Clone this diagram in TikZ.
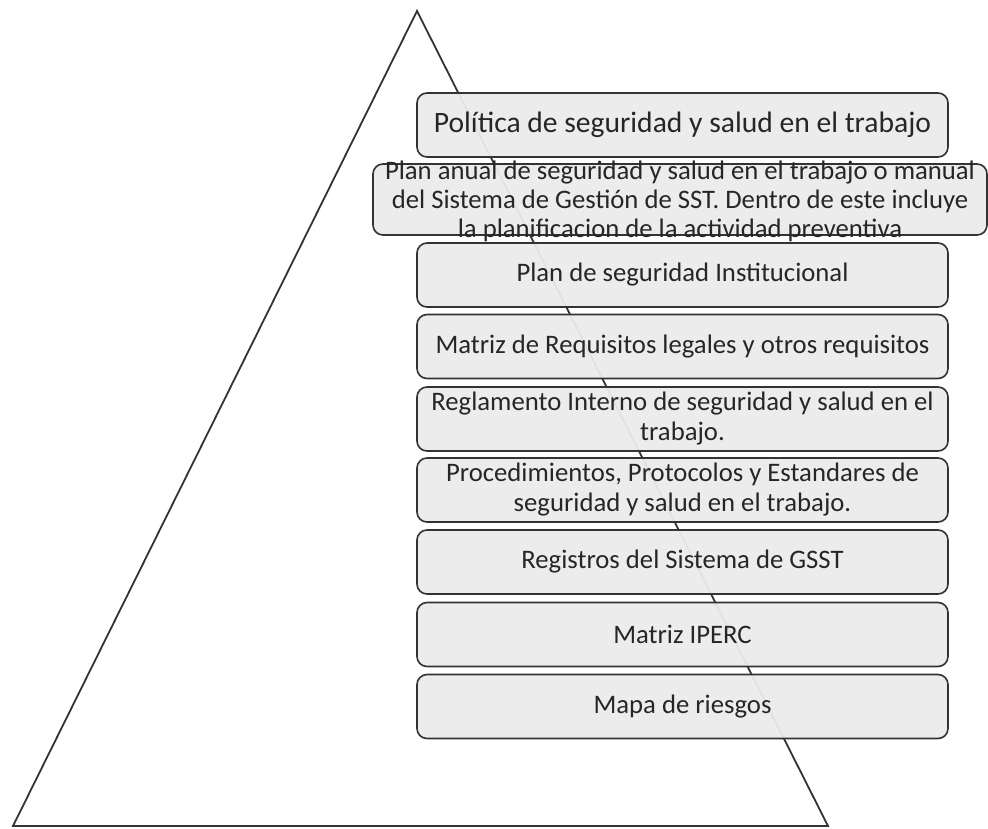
\documentclass[tikz,border=0pt]{standalone}
\usepackage{fontspec}
\setmainfont{Carlito}
\tikzset{
  borde/.style={draw=black!80,line width=1.8pt},
  capa/.style={draw=black!80,line width=1.6pt,rounded corners=10pt,
    fill=black!8,fill opacity=0.95,text opacity=1,text=black!85,
    minimum width=531pt,minimum height=64pt,inner sep=0pt,
    align=center,font=\fontsize{26.7}{30}\selectfont},
  texto/.style={align=center,inner sep=0pt,text=black!85,
    font=\fontsize{26.7}{29}\selectfont}
}
\begin{document}
\begin{tikzpicture}[x=1pt,y=-1pt]
  \useasboundingbox (0,0) rectangle (988,828);
  % piramide
  \coordinate (cima) at (417,11);
  \coordinate (izq) at (13,826);
  \coordinate (der) at (828,826);
  \draw[borde] (cima) -- (izq) -- (der) -- cycle;
  % capas
  \node[capa,font=\fontsize{29.6}{32}\selectfont] (politica) at (682.5,125) {Política de seguridad y salud en el trabajo};
  \node[capa,minimum width=614pt,minimum height=71pt] (plan) at (680,199.5) {};
  \node[texto] (plantxt) at (680,201) {Plan anual de seguridad y salud en el trabajo o manual\\del Sistema de Gestión de SST. Dentro de este incluye\\la planificacion de la actividad preventiva};
  \node[capa] (institucional) at (682.5,275) {Plan de seguridad Institucional};
  \node[capa] (matriz) at (682.5,346.5) {Matriz de Requisitos legales y otros requisitos};
  \node[capa] (reglamento) at (682.5,419) {Reglamento Interno de seguridad y salud en el\\trabajo.};
  \node[capa] (procedimientos) at (682.5,490) {Procedimientos, Protocolos y Estandares de\\seguridad y salud en el trabajo.};
  \node[capa] (registros) at (682.5,562) {Registros del Sistema de GSST};
  \node[capa] (iperc) at (682.5,634.5) {Matriz IPERC};
  \node[capa] (mapa) at (682.5,706.5) {Mapa de riesgos};
\end{tikzpicture}
\end{document}
